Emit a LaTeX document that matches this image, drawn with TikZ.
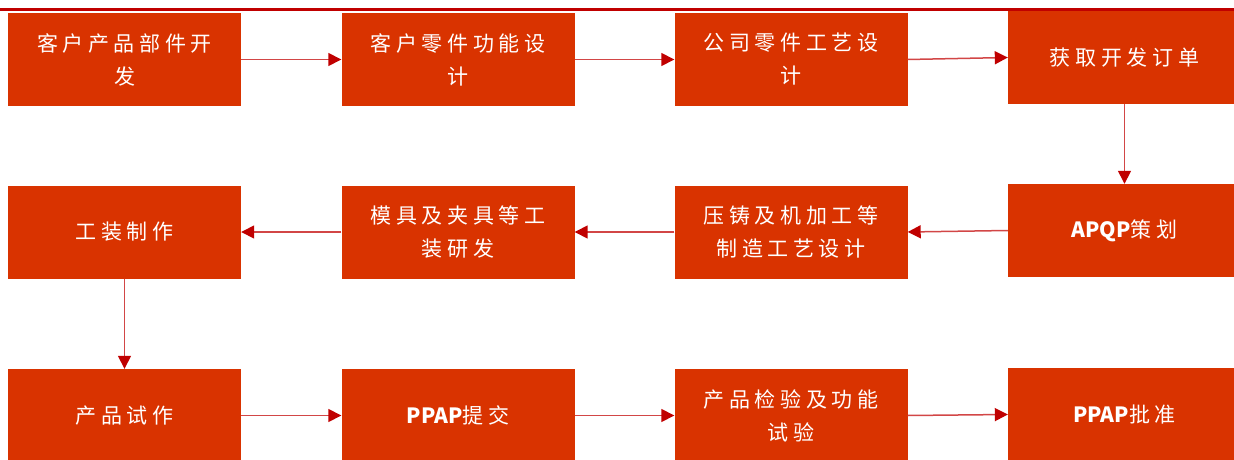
\documentclass[tikz,border=0pt]{standalone}
\usepackage{fontspec}
\newfontfamily\cjk[LetterSpace=22]{Noto Sans CJK SC}
\newfontfamily\lat{Noto Sans CJK SC}
\newcommand{\lt}[1]{{\lat\bfseries #1}}
\usetikzlibrary{arrows.meta}
\definecolor{boxred}{RGB}{217,51,0}
\definecolor{linered}{RGB}{210,70,70}
\definecolor{tipred}{RGB}{192,0,0}
\tikzset{
  stepbox/.style={fill=boxred, draw=none, minimum width=233pt, minimum height=93pt,
    inner sep=0pt, align=center, text=white, font=\cjk\fontsize{21}{33}\selectfont},
  arr/.style={draw=linered, line width=1.5pt, -{Triangle[length=13pt,width=13pt,color=tipred]}},
  topline/.style={draw=tipred, line width=3.2pt}
}
\begin{document}
\begin{tikzpicture}[x=1pt,y=-1pt]
\useasboundingbox (0,0) rectangle (1234,460);
\clip (0,0) rectangle (1234,460);
\draw[topline] (0,9.5) -- (1234,9.5);
\node[stepbox] (n1) at (124.5,59.5) {客户产品部件开\\发};
\node[stepbox] (n2) at (458,59.5) {客户零件功能设\\计};
\node[stepbox] (n3) at (791,59.5) {公司零件工艺设\\计};
\node[stepbox] (n4) at (1124.5,57.5) {获取开发订单};
\node[stepbox] (n5) at (1124.5,230.5) {\lt{APQP}策划};
\node[stepbox] (n6) at (791,232) {压铸及机加工等\\制造工艺设计};
\node[stepbox] (n7) at (458,232) {模具及夹具等工\\装研发};
\node[stepbox] (n8) at (124.5,232) {工装制作};
\node[stepbox] (n9) at (124.5,415.5) {产品试作};
\node[stepbox] (n10) at (458,415.5) {\lt{PPAP}提交};
\node[stepbox] (n11) at (791,415.5) {产品检验及功能\\试验};
\node[stepbox] (n12) at (1124.5,414.5) {\lt{PPAP}批准};
\draw[arr] (n1) -- (n2);
\draw[arr] (n2) -- (n3);
\draw[arr] (n3.east) -- (n4.west);
\draw[arr] (n4) -- (n5);
\draw[arr] (n5.west) -- (n6.east);
\draw[arr] (n6) -- (n7);
\draw[arr] (n7) -- (n8);
\draw[arr] (n8) -- (n9);
\draw[arr] (n9) -- (n10);
\draw[arr] (n10) -- (n11);
\draw[arr] (n11.east) -- (n12.west);
\end{tikzpicture}
\end{document}
